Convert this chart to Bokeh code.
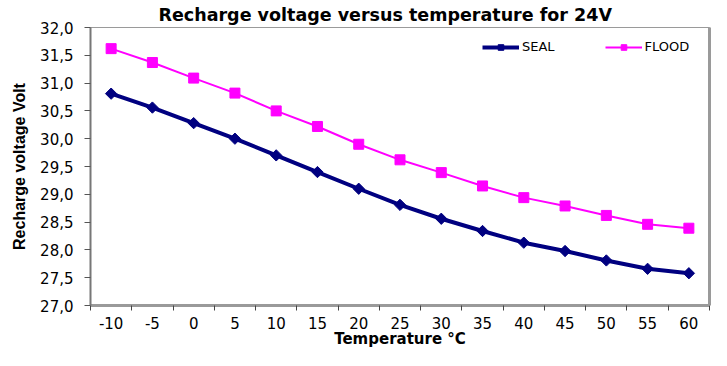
import math
from bokeh.plotting import figure
from bokeh.models import (Range1d, FixedTicker, CustomJSTickFormatter, Legend,
                          LegendItem, LinearAxis)
from bokeh.embed import file_html
from bokeh.resources import INLINE

# ---- data ----
temps = [-10, -5, 0, 5, 10, 15, 20, 25, 30, 35, 40, 45, 50, 55, 60]
seal = [30.81, 30.56, 30.28, 30.00, 29.70, 29.40, 29.10, 28.81, 28.56,
        28.34, 28.13, 27.98, 27.81, 27.66, 27.58]
flood = [31.62, 31.37, 31.09, 30.82, 30.50, 30.22, 29.90, 29.62, 29.39,
         29.15, 28.94, 28.79, 28.62, 28.46, 28.39]
y_ticks = [27.0, 27.5, 28.0, 28.5, 29.0, 29.5, 30.0, 30.5, 31.0, 31.5, 32.0]
series_names = ["SEAL", "FLOOD"]
title_text = "Recharge voltage versus  temperature for 24V"
x_label = "Temperature °C"
y_label = "Recharge voltage Volt"

step = temps[1] - temps[0]
x_bounds = [t - step / 2 for t in temps] + [temps[-1] + step / 2]

p = figure(width=711, height=350, output_backend="svg", toolbar_location=None,
           x_range=Range1d(x_bounds[0], x_bounds[-1]),
           y_range=Range1d(y_ticks[0], y_ticks[-1]),
           min_border_left=90, min_border_right=2,
           min_border_top=27, min_border_bottom=45)
p.background_fill_color = "white"
p.border_fill_color = "white"
p.outline_line_color = "#9a9a9a"
p.outline_line_width = 1
p.xgrid.visible = False
p.ygrid.visible = False

p.title.text = title_text
p.title.text_font = "DejaVu Sans"
p.title.text_font_size = "17.5px"
p.title.text_font_style = "bold"
p.title.text_color = "black"
p.title.align = "left"
p.title.offset = 68
p.title.standoff = 5

# x axis
xa = p.xaxis[0]
xa.ticker = FixedTicker(ticks=temps, minor_ticks=x_bounds)
xa.formatter = CustomJSTickFormatter(code="return tick.toFixed(0);")
xa.major_tick_out = 0
xa.major_tick_in = 0
xa.minor_tick_out = 5
xa.minor_tick_in = 0
xa.minor_tick_line_color = "#444444"
xa.axis_line_color = "#9a9a9a"
xa.axis_line_width = 3
xa.major_label_text_font = "DejaVu Sans"
xa.major_label_text_font_size = "15px"
xa.major_label_text_color = "black"
xa.major_label_standoff = 6
xa.axis_label = x_label
xa.axis_label_text_font = "DejaVu Sans"
xa.axis_label_text_font_size = "15px"
xa.axis_label_text_font_style = "bold"
xa.axis_label_text_color = "black"
xa.axis_label_standoff = -2

# y axis
ya = p.yaxis[0]
ya.ticker = FixedTicker(ticks=y_ticks, minor_ticks=[])
ya.formatter = CustomJSTickFormatter(code="return tick.toFixed(1).replace('.', ',');")
ya.major_tick_out = 6
ya.major_tick_in = 0
ya.major_tick_line_color = "#555555"
ya.axis_line_color = "#777777"
ya.axis_line_width = 2
ya.major_label_text_font = "DejaVu Sans"
ya.major_label_text_font_size = "15px"
ya.major_label_text_color = "black"
ya.major_label_standoff = 11
ya.axis_label = y_label
ya.axis_label_text_font = "Liberation Sans"
ya.axis_label_text_font_size = "16px"
ya.axis_label_text_font_style = "bold"
ya.axis_label_text_color = "black"
ya.axis_label_standoff = 9

# thicker right border, as in the reference
ra = LinearAxis(ticker=FixedTicker(ticks=[]), major_label_text_font_size="0px",
                axis_line_color="#9a9a9a", axis_line_width=3,
                major_tick_out=0, minor_tick_out=0, major_label_standoff=0)
p.add_layout(ra, "right")

# series
l1 = p.line(temps, seal, line_color="#000080", line_width=4)
m1 = p.scatter(temps, seal, marker="square", angle=math.pi / 4, size=8,
               fill_color="#000080", line_color="#000080")
l2 = p.line(temps, flood, line_color="#FF00FF", line_width=2)
m2 = p.scatter(temps, flood, marker="square", size=10,
               fill_color="#FF00FF", line_color="#FF00FF")

legend = Legend(items=[LegendItem(label=series_names[0], renderers=[l1, m1]),
                       LegendItem(label=series_names[1], renderers=[l2, m2])],
                location=(392, 251), orientation="horizontal",
                glyph_width=37, glyph_height=14, label_height=14,
                label_standoff=3, spacing=50, padding=0, margin=0,
                border_line_color=None, background_fill_alpha=0,
                label_text_font="DejaVu Sans", label_text_font_size="13px",
                label_text_color="black")
p.add_layout(legend)

open("out.html", "w").write(file_html(p, INLINE))
